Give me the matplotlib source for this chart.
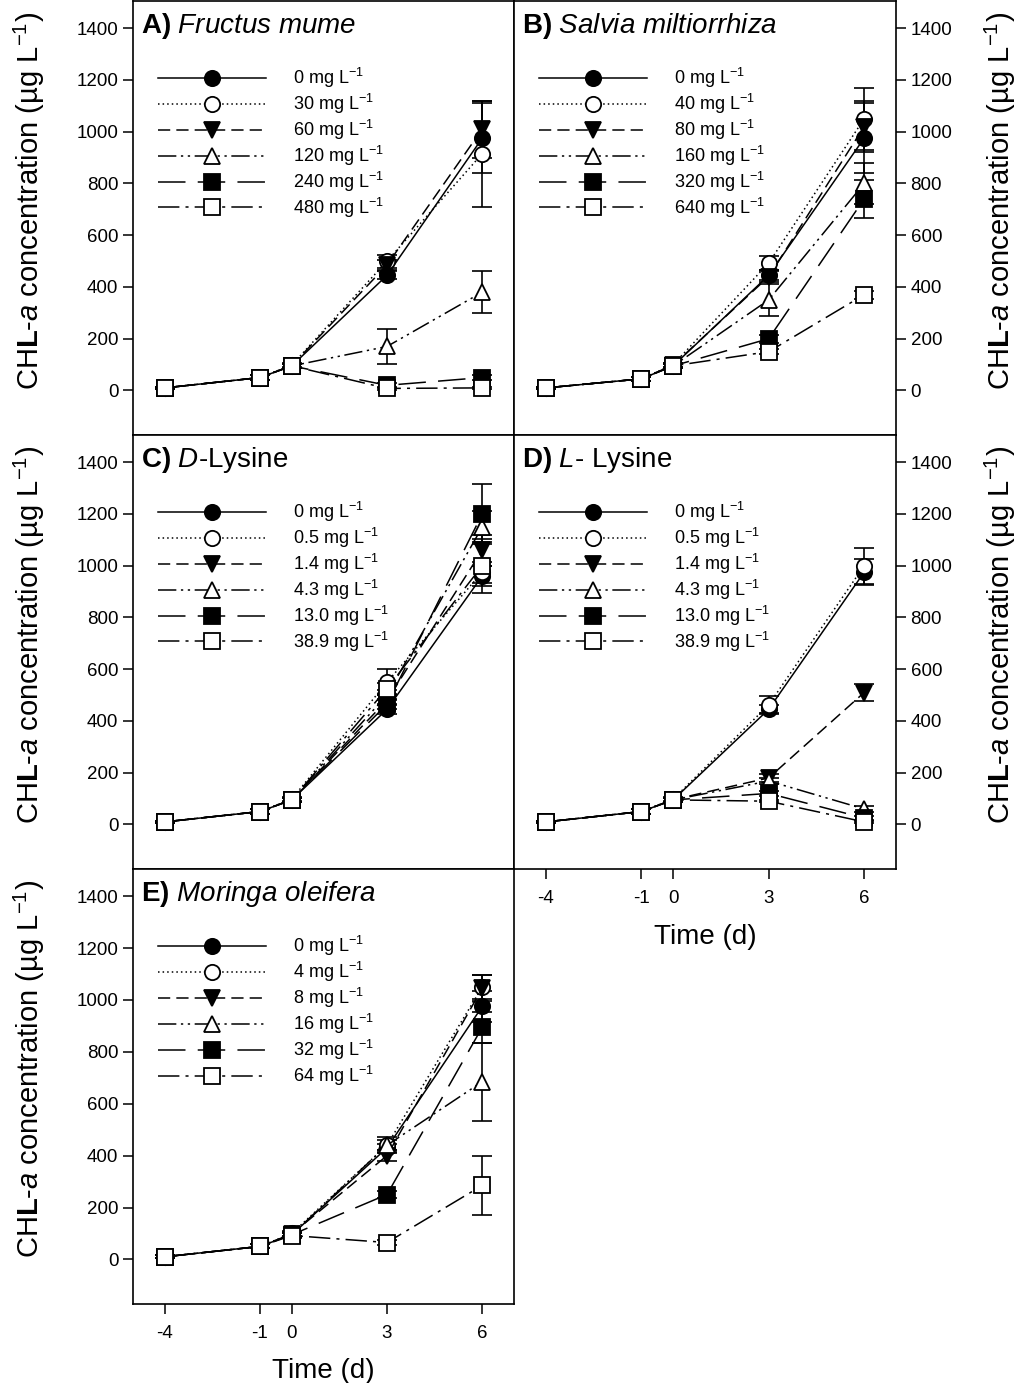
import numpy as np
import matplotlib
matplotlib.use("Agg")
import matplotlib.pyplot as plt

plt.rcParams['font.family'] = ['Liberation Sans', 'DejaVu Sans']
plt.rcParams['mathtext.fontset'] = 'custom'
plt.rcParams['mathtext.rm'] = 'Liberation Sans'
plt.rcParams['mathtext.it'] = 'Liberation Sans:italic'
plt.rcParams['mathtext.bf'] = 'Liberation Sans:bold'
plt.rcParams['axes.unicode_minus'] = False

# sampling days
days = [-4, -1, 0, 3, 6]

# panel titles
titles = [r"$\mathbf{A)}\ \mathit{Fructus\ mume}$",
          r"$\mathbf{B)}\ \mathit{Salvia\ miltiorrhiza}$",
          r"$\mathbf{C)}\ \mathit{D}$-Lysine",
          r"$\mathbf{D)}\ \mathit{L}$- Lysine",
          r"$\mathbf{E)}\ \mathit{Moringa\ oleifera}$"]

# concentrations (legend)
doses_a = ["0", "30", "60", "120", "240", "480"]
doses_b = ["0", "40", "80", "160", "320", "640"]
doses_c = ["0", "0.5", "1.4", "4.3", "13.0", "38.9"]
doses_d = ["0", "0.5", "1.4", "4.3", "13.0", "38.9"]
doses_e = ["0", "4", "8", "16", "32", "64"]

# CHL-a means (ug/L), one row per concentration
chl_a = [[10, 50, 95, 445, 975],
         [10, 50, 98, 500, 915],
         [10, 50, 96, 485, 1010],
         [10, 50, 95, 170, 380],
         [10, 50, 95, 20, 50],
         [10, 50, 95, 8, 10]]
err_a = [[5, 8, 8, 15, 135],
         [5, 8, 8, 25, 205],
         [5, 8, 8, 20, 110],
         [5, 8, 8, 68, 82],
         [5, 8, 8, 10, 10],
         [5, 8, 8, 5, 5]]

chl_b = [[10, 45, 95, 445, 975],
         [10, 45, 100, 492, 1050],
         [10, 45, 98, 440, 1020],
         [10, 45, 95, 350, 800],
         [10, 45, 95, 200, 740],
         [10, 45, 95, 150, 370]]
err_b = [[5, 8, 8, 20, 135],
         [5, 8, 8, 27, 120],
         [5, 8, 8, 20, 100],
         [5, 8, 8, 63, 80],
         [5, 8, 8, 15, 73],
         [5, 8, 8, 10, 15]]

chl_c = [[10, 50, 95, 445, 960],
         [10, 50, 98, 550, 975],
         [10, 50, 96, 480, 1060],
         [10, 50, 95, 500, 1150],
         [10, 50, 95, 465, 1200],
         [10, 50, 95, 525, 1000]]
err_c = [[5, 8, 8, 20, 40],
         [5, 8, 8, 50, 40],
         [5, 8, 8, 20, 60],
         [5, 8, 8, 20, 60],
         [5, 8, 8, 20, 115],
         [5, 8, 8, 20, 105]]

chl_d = [[10, 50, 95, 445, 975],
         [10, 50, 98, 462, 1000],
         [10, 50, 96, 180, 510],
         [10, 50, 95, 168, 60],
         [10, 50, 95, 120, 25],
         [10, 50, 95, 90, 10]]
err_d = [[5, 8, 8, 15, 50],
         [5, 8, 8, 35, 70],
         [5, 8, 8, 15, 33],
         [5, 8, 8, 10, 10],
         [5, 8, 8, 8, 8],
         [5, 8, 8, 5, 5]]

chl_e = [[10, 50, 95, 430, 975],
         [10, 50, 100, 440, 1050],
         [10, 50, 98, 400, 1045],
         [10, 50, 95, 440, 685],
         [10, 50, 95, 250, 895],
         [10, 50, 92, 65, 285]]
err_e = [[5, 8, 8, 15, 60],
         [5, 8, 8, 20, 47],
         [5, 8, 8, 20, 50],
         [5, 8, 8, 30, 150],
         [5, 8, 8, 15, 60],
         [5, 8, 8, 8, 112]]

# styles per series
markers = ['o', 'o', 'v', '^', 's', 's']
faces = ['black', 'white', 'black', 'white', 'black', 'white']
dashes = ['-', (0, (1, 2)), (0, (8, 4)), (0, (12, 3, 1.5, 3, 1.5, 3)),
          (0, (18, 8)), (0, (14, 4, 2, 4))]

W, H = 1024, 1383
fig = plt.figure(figsize=(W / 100, H / 100), dpi=100)

def box(x0, y0, x1, y1):
    return [x0 / W, 1 - y1 / H, (x1 - x0) / W, (y1 - y0) / H]

panels = [
    (box(133, 1, 514, 435), chl_a, err_a, doses_a, 'left', False),
    (box(514, 1, 896, 435), chl_b, err_b, doses_b, 'right', False),
    (box(133, 435, 514, 869), chl_c, err_c, doses_c, 'left', False),
    (box(514, 435, 896, 869), chl_d, err_d, doses_d, 'right', True),
    (box(133, 869, 514, 1304), chl_e, err_e, doses_e, 'left', True),
]

ylab = r"CH$\mathbf{L}$-$\mathit{a}$ concentration (µg L$^{-1}$)"

for i, (pos, vals, errs, doses, side, xlab) in enumerate(panels):
    ax = fig.add_axes(pos)
    for j in range(6):
        ax.errorbar(days, vals[j], yerr=errs[j], fmt='none', ecolor='black',
                    elinewidth=1.2, capsize=7, capthick=1.2, zorder=2)
        ax.plot(days, vals[j], color='black', lw=1.1, linestyle=dashes[j],
                marker=markers[j], markersize=11, markerfacecolor=faces[j],
                markeredgecolor='black', markeredgewidth=1.3,
                label=doses[j] + r" mg L$^{-1}$", zorder=3)
    ax.set_xlim(-5, 7)
    ax.set_ylim(-172, 1505)
    ax.set_yticks(np.arange(0, 1401, 200))
    ax.set_xticks(days)
    for s in ax.spines.values():
        s.set_linewidth(1.2)
    ax.tick_params(direction='out', length=7, width=1.1, labelsize=13.5)
    if side == 'right':
        ax.yaxis.tick_right()
        ax.yaxis.set_label_position('right')
        ax.set_ylabel(ylab, fontsize=21, rotation=90)
        ax.yaxis.set_label_coords(1.228, 0.54)
    else:
        ax.set_ylabel(ylab, fontsize=21)
        ax.yaxis.set_label_coords(-0.226, 0.54)
    if xlab:
        ax.set_xlabel("Time (d)", fontsize=20, labelpad=12)
        ax.tick_params(axis='x', pad=8)
    else:
        ax.tick_params(axis='x', bottom=False, labelbottom=False)
    ax.text(0.02, 0.978, titles[i], transform=ax.transAxes, fontsize=20,
            va='top', ha='left')
    ax.legend(loc='upper left', bbox_to_anchor=(0.065, 0.85), frameon=False,
              fontsize=13, handlelength=6.0, handletextpad=1.5,
              labelspacing=0.1, borderpad=0, borderaxespad=0)

fig.savefig("out.png", dpi=100)
